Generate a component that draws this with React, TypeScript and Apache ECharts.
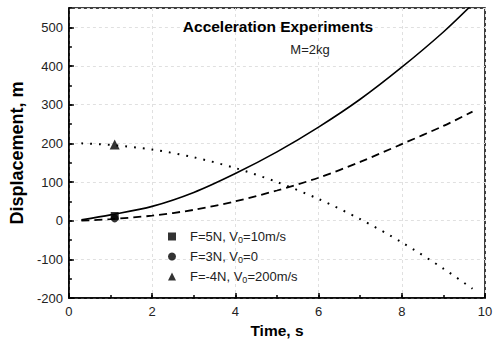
import React, { useEffect, useRef } from "react";
import * as echarts from "echarts";

const times = [0.3, 1, 2, 3, 4, 5, 6, 7, 8, 9, 9.7];
const solidValues = [2, 15, 37, 73, 122, 178, 242, 314, 397, 488, 560];
const dashedValues = [0, 4, 13, 28, 50, 78, 111, 152, 198, 245, 282];
const dottedValues = [200, 196, 184, 164, 136, 100, 56, 4, -56, -124, -176];

const legendNames = ["F=5N, V0=10m/s", "F=3N, V0=0", "F=-4N, V0=200m/s"];
const markerTimes = [1.1, 1.1, 1.1];
const markerValues = [12, 6, 197];
const markerSymbols = ["rect", "circle", "triangle"];

const xTicks = [0, 2, 4, 6, 8, 10];
const yTicks = [-200, -100, 0, 100, 200, 300, 400, 500];

const FONT = "Liberation Sans, Arial, sans-serif";

export default function App() {
  const ref = useRef<HTMLDivElement>(null);
  useEffect(() => {
    if (!ref.current) return;
    const chart = echarts.init(ref.current, undefined, { renderer: "svg" });
    const pairs = (vals: number[]) => times.map((t, i) => [t, vals[i]]);
    const lineSeries = [
      { vals: solidValues, dash: "solid" as any, width: 1.6 },
      { vals: dashedValues, dash: [8, 5], width: 1.8 },
      { vals: dottedValues, dash: [1.8, 7], width: 2 },
    ].map((s) => ({
      type: "line",
      data: pairs(s.vals),
      smooth: 0.3,
      showSymbol: false,
      symbol: "none",
      lineStyle: { color: "#000", width: s.width, type: s.dash },
      z: 2,
      silent: true,
    }));
    const scatterSeries = legendNames.map((name, i) => ({
      type: "scatter",
      name,
      data: [[markerTimes[i], markerValues[i]]],
      symbol: markerSymbols[i],
      symbolSize: markerSymbols[i] === "triangle" ? 10 : 8,
      symbolKeepAspect: true,
      itemStyle: { color: "#000" },
      z: 5,
    }));
    const axisLineStyle = { color: "#000", width: 1.5 };
    chart.setOption({
      animation: false,
      textStyle: { fontFamily: FONT },
      title: [
        {
          text: "Acceleration Experiments",
          left: 273,
          top: 13,
          textAlign: "center",
          textStyle: { fontSize: 15.5, fontWeight: "bold", color: "#000", fontFamily: FONT },
        },
        {
          text: "M=2kg",
          left: 305,
          top: 38,
          textAlign: "center",
          textStyle: { fontSize: 13, fontWeight: "normal", color: "#222", fontFamily: FONT },
        },
      ],
      grid: {
        left: 68,
        right: 11,
        top: 8,
        bottom: 49,
        show: true,
        borderColor: "#000",
        borderWidth: 1.5,
      },
      legend: {
        data: legendNames,
        orient: "vertical",
        left: 163,
        top: 223,
        itemWidth: 8,
        itemHeight: 8,
        itemGap: 4,
        formatter: (n: string) => n.replace("V0", "V{sub|0}"),
        textStyle: {
          fontSize: 13,
          color: "#222",
          fontFamily: FONT,
          lineHeight: 15,
          padding: [0, 0, 0, 9],
          rich: {
            sub: { fontSize: 9, lineHeight: 9, verticalAlign: "bottom", padding: [7, 0, 0, 0], color: "#222", fontFamily: FONT },
          },
        },
      },
      xAxis: [
        {
          type: "value",
          min: xTicks[0],
          max: xTicks[xTicks.length - 1],
          interval: 2,
          name: "Time, s",
          nameLocation: "middle",
          nameGap: 24,
          nameTextStyle: { fontSize: 15.5, fontWeight: "bold", color: "#000", fontFamily: FONT },
          axisLine: { onZero: false, lineStyle: axisLineStyle },
          axisTick: { inside: true, length: 5, lineStyle: axisLineStyle },
          axisLabel: { fontSize: 13, color: "#222", margin: 7, fontFamily: FONT },
          splitLine: { show: true, lineStyle: { color: "#e0e0e0", type: [3, 3], width: 1 } },
        },
        {
          type: "value",
          min: 0,
          max: 10,
          interval: 1,
          position: "bottom",
          axisLine: { show: false, onZero: false },
          axisTick: { inside: true, length: 3, lineStyle: axisLineStyle },
          axisLabel: { show: false },
          splitLine: { show: false },
        },
      ],
      yAxis: [
        {
          type: "value",
          min: yTicks[0],
          max: 550,
          interval: 100,
          name: "Displacement, m",
          nameLocation: "middle",
          nameGap: 37,
          nameTextStyle: { fontSize: 18, fontWeight: "bold", color: "#000", fontFamily: FONT },
          axisLine: { show: true, onZero: false, lineStyle: axisLineStyle },
          axisTick: { show: true, inside: true, length: 5, lineStyle: axisLineStyle },
          axisLabel: { fontSize: 13, color: "#222", margin: 6, showMaxLabel: false, fontFamily: FONT },
          splitLine: { show: true, lineStyle: { color: "#e0e0e0", type: [3, 3], width: 1 } },
        },
        {
          type: "value",
          min: -200,
          max: 550,
          interval: 50,
          position: "left",
          axisLine: { show: false, onZero: false },
          axisTick: { show: true, inside: true, length: 3, lineStyle: axisLineStyle },
          axisLabel: { show: false },
          splitLine: { show: false },
        },
      ],
      series: [...lineSeries, ...scatterSeries],
    });
    return () => chart.dispose();
  }, []);
  return <div ref={ref} style={{ width: 496, height: 347, position: "absolute", left: 0, top: 0, background: "#fff" }} />;
}
